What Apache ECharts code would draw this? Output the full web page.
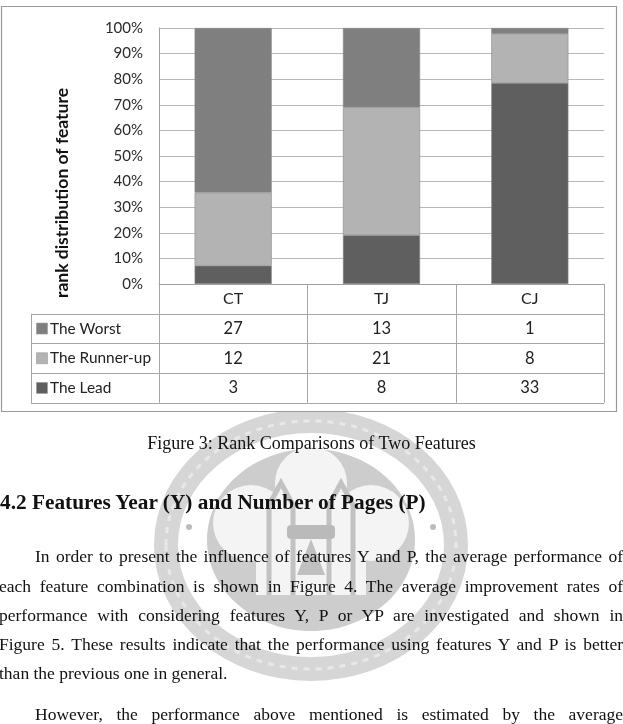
<!DOCTYPE html>
<html>
<head>
<meta charset="utf-8">
<script src="https://cdn.jsdelivr.net/npm/echarts@6/dist/echarts.min.js"></script>
<style>
html,body{margin:0;padding:0;background:#fff;}
#wrap{position:relative;width:623px;height:724px;overflow:hidden;}
#chart{position:absolute;left:0;top:0;width:623px;height:724px;}
.t{position:absolute;font-family:"Liberation Serif","Times New Roman",serif;color:#111;z-index:2;pointer-events:none;}
#cap{left:0;width:623px;top:432px;font-size:18px;line-height:22px;text-align:center;}
#head{left:0;top:489px;font-size:21.3px;line-height:26px;font-weight:bold;white-space:nowrap;}
.ln{left:-1px;width:624px;font-size:17.5px;line-height:20px;text-align:justify;text-align-last:justify;white-space:nowrap;}
.ln.last{text-align-last:left;}
.ind{text-indent:36px;}
</style>
</head>
<body>
<div id="wrap">
<div id="chart"></div>
<div class="t" id="cap">Figure 3: Rank Comparisons of Two Features</div>
<div class="t" id="head">4.2 Features Year (Y) and Number of Pages (P)</div>
<div class="t ln ind" style="top:546px">In order to present the influence of features Y and P, the average performance of</div>
<div class="t ln" style="top:576px">each feature combination is shown in Figure 4. The average improvement rates of</div>
<div class="t ln" style="top:605px">performance with considering features Y, P or YP are investigated and shown in</div>
<div class="t ln" style="top:634px">Figure 5. These results indicate that the performance using features Y and P is better</div>
<div class="t ln last" style="top:663px">than the previous one in general.</div>
<div class="t ln ind" style="top:704px">However, the performance above mentioned is estimated by the average</div>
</div>
<script>
// ---- data ----
var categories = ['CT', 'TJ', 'CJ'];
var seriesNames = ['The Worst', 'The Runner-up', 'The Lead'];
var worst = [27, 13, 1];
var runnerUp = [12, 21, 8];
var lead = [3, 8, 33];
var yTicks = [0, 10, 20, 30, 40, 50, 60, 70, 80, 90, 100];
var axisTitle = 'rank distribution of feature';

var colors = {'The Worst': '#7f7f7f', 'The Runner-up': '#b3b3b3', 'The Lead': '#5f5f5f'};
var rows = {'The Worst': worst, 'The Runner-up': runnerUp, 'The Lead': lead};

var totals = categories.map(function (c, i) { return worst[i] + runnerUp[i] + lead[i]; });
function pct(arr) { return arr.map(function (v, i) { return v / totals[i] * 100; }); }

var chart = echarts.init(document.getElementById('chart'), null, {renderer: 'canvas'});
var font = 'Lato, "Open Sans", sans-serif';

var option = {
  animation: false,
  backgroundColor: '#fff',
  grid: {left: 159, right: 19, top: 28, bottom: 440, containLabel: false},
  xAxis: {
    type: 'category', data: categories,
    axisLabel: {show: false}, axisTick: {show: false},
    axisLine: {show: true, lineStyle: {color: '#a0a0a0', width: 1}},
    z: 5
  },
  yAxis: {
    type: 'value', min: yTicks[0], max: yTicks[yTicks.length - 1], interval: 10,
    axisLabel: {formatter: '{value}%', fontFamily: font, fontSize: 15, color: '#2a2a2a', margin: 16},
    axisLine: {show: true, lineStyle: {color: '#a0a0a0'}},
    axisTick: {show: false},
    splitLine: {lineStyle: {color: '#b8b8b8', width: 1}}
  },
  series: [
    {name: 'The Lead', type: 'bar', stack: 'a', barWidth: '52%', data: pct(lead),
      itemStyle: {color: colors['The Lead'], borderColor: '#8c8c8c', borderWidth: 0.6}, z: 3},
    {name: 'The Runner-up', type: 'bar', stack: 'a', barWidth: '52%', data: pct(runnerUp),
      itemStyle: {color: colors['The Runner-up'], borderColor: '#8c8c8c', borderWidth: 0.6}, z: 3},
    {name: 'The Worst', type: 'bar', stack: 'a', barWidth: '52%', data: pct(worst),
      itemStyle: {color: colors['The Worst'], borderColor: '#8c8c8c', borderWidth: 0.6}, z: 3}
  ]
};
chart.setOption(option);

// ---- table + decorations ----
var centers = categories.map(function (c) { return chart.convertToPixel({xAxisIndex: 0}, c); });
var half = (centers[1] - centers[0]) / 2;
var yBase = chart.convertToPixel({yAxisIndex: 0}, 0);
var rowH = 29.7;
var gridLeft = centers[0] - half;
var gridRight = centers[centers.length - 1] + half;
var tableLeft = 31;
var lineC = '#a6a6a6';
var g = [];

// seal watermark (behind everything)
var sx = 311, sy = 545;
g.push({type: 'ellipse', shape: {cx: sx, cy: sy, rx: 145, ry: 124}, style: {fill: 'none', stroke: '#d6d6d6', lineWidth: 24}, z: -10, silent: true});
g.push({type: 'ellipse', shape: {cx: sx, cy: sy, rx: 145, ry: 124}, style: {fill: 'none', stroke: '#e8e8e8', lineWidth: 3, lineDash: [6, 6]}, z: -9, silent: true});
g.push({type: 'ellipse', shape: {cx: sx, cy: sy - 5, rx: 104, ry: 91}, style: {fill: '#cdcdcd'}, z: -9, silent: true});
g.push({type: 'circle', shape: {cx: sx - 60, cy: sy - 22, r: 38}, style: {fill: '#f4f4f4'}, z: -8, silent: true});
g.push({type: 'circle', shape: {cx: sx + 60, cy: sy - 22, r: 38}, style: {fill: '#f4f4f4'}, z: -8, silent: true});
g.push({type: 'circle', shape: {cx: sx, cy: sy - 62, r: 36}, style: {fill: '#f4f4f4'}, z: -8, silent: true});
g.push({type: 'rect', shape: {x: sx - 55, y: sy - 40, width: 110, height: 90}, style: {fill: '#f4f4f4'}, z: -8, silent: true});
g.push({type: 'polyline', shape: {points: [[sx - 42, sy + 50], [sx - 42, sy - 40], [sx - 30, sy - 62], [sx - 18, sy - 40], [sx - 18, sy + 50]]}, style: {stroke: '#c2c2c2', lineWidth: 5, fill: 'none'}, z: -7, silent: true});
g.push({type: 'polyline', shape: {points: [[sx + 18, sy + 50], [sx + 18, sy - 40], [sx + 30, sy - 62], [sx + 42, sy - 40], [sx + 42, sy + 50]]}, style: {stroke: '#c2c2c2', lineWidth: 5, fill: 'none'}, z: -7, silent: true});
g.push({type: 'rect', shape: {x: sx - 24, y: sy - 20, width: 48, height: 14, r: 4}, style: {fill: '#bababa'}, z: -7, silent: true});
g.push({type: 'polygon', shape: {points: [[sx, sy - 6], [sx - 14, sy + 30], [sx + 14, sy + 30]]}, style: {fill: '#c0c0c0'}, z: -7, silent: true});
g.push({type: 'circle', shape: {cx: sx - 122, cy: sy - 18, r: 3}, style: {fill: '#bcbcbc'}, z: -7, silent: true});
g.push({type: 'circle', shape: {cx: sx + 122, cy: sy - 18, r: 3}, style: {fill: '#bcbcbc'}, z: -7, silent: true});

// outer chart box (white, covers seal top)
g.push({type: 'rect', shape: {x: 1.5, y: 6.5, width: 615, height: 405}, style: {fill: '#fff', stroke: '#999', lineWidth: 1.2}, z: -5, silent: true});

// table horizontal lines
for (var r = 1; r <= 4; r++) {
  var yy = Math.round(yBase + r * rowH) + 0.5;
  g.push({type: 'line', shape: {x1: tableLeft, y1: yy, x2: gridRight, y2: yy}, style: {stroke: lineC, lineWidth: 1}, z: 10});
}
// vertical lines
g.push({type: 'line', shape: {x1: tableLeft + 0.5, y1: yBase + rowH, x2: tableLeft + 0.5, y2: yBase + 4 * rowH}, style: {stroke: lineC}, z: 10});
for (var k = 0; k <= categories.length; k++) {
  var xx = Math.round(gridLeft + k * 2 * half) + 0.5;
  g.push({type: 'line', shape: {x1: xx, y1: yBase, x2: xx, y2: yBase + 4 * rowH}, style: {stroke: lineC}, z: 10});
}
// header
categories.forEach(function (c, i) {
  g.push({type: 'text', x: centers[i], y: yBase + rowH / 2, style: {text: c, font: '16px ' + font, fill: '#222', textAlign: 'center', textVerticalAlign: 'middle'}, z: 11});
});
// rows
seriesNames.forEach(function (name, ri) {
  var cy = yBase + (ri + 1.5) * rowH;
  g.push({type: 'rect', shape: {x: 36.5, y: cy - 5.5, width: 11, height: 11}, style: {fill: colors[name], stroke: '#999', lineWidth: 0.6}, z: 11});
  g.push({type: 'text', x: 50, y: cy, style: {text: name, font: '15.4px ' + font, fill: '#222', textAlign: 'left', textVerticalAlign: 'middle'}, z: 11});
  rows[name].forEach(function (v, i) {
    g.push({type: 'text', x: centers[i], y: cy, style: {text: String(v), font: '16.5px ' + font, fill: '#222', textAlign: 'center', textVerticalAlign: 'middle'}, z: 11});
  });
});
// axis title
g.push({type: 'text', x: 62, y: 193, rotation: Math.PI / 2, style: {text: axisTitle, font: 'bold 17.5px ' + font, fill: '#111', textAlign: 'center', textVerticalAlign: 'middle'}, z: 11});

chart.setOption({graphic: g});
</script>
</body>
</html>
